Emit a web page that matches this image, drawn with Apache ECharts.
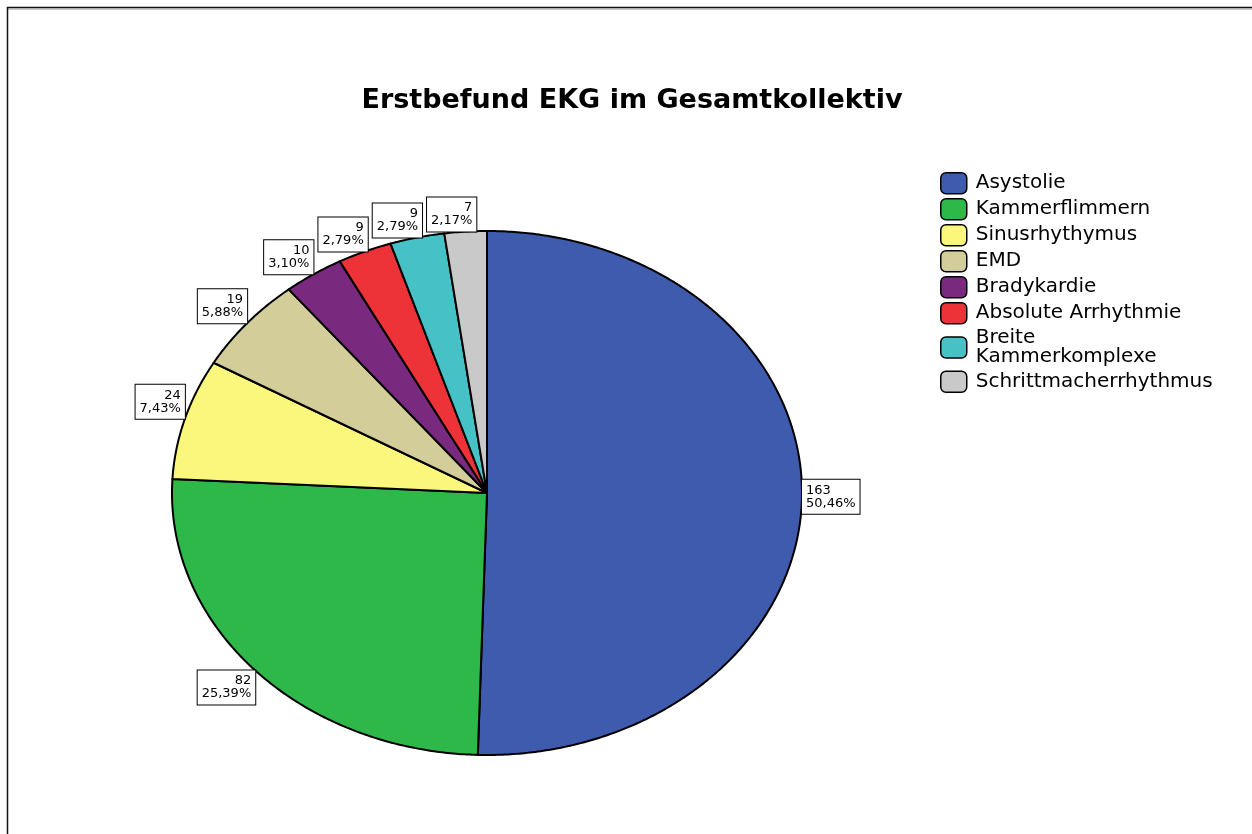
<!DOCTYPE html>
<html>
<head>
<meta charset="utf-8">
<script src="https://cdn.jsdelivr.net/npm/echarts@6/dist/echarts.min.js"></script>
<style>
  html, body { margin: 0; padding: 0; background: #fff; }
  #chart { width: 1252px; height: 834px; }
</style>
</head>
<body>
<div id="chart"></div>
<script>
// Initial ECG findings, whole cohort
const categories = ['Asystolie', 'Kammerflimmern', 'Sinusrhythymus', 'EMD', 'Bradykardie',
                    'Absolute Arrhythmie', 'Breite Kammerkomplexe', 'Schrittmacherrhythmus'];
const counts = [163, 82, 24, 19, 10, 9, 9, 7];
const colors = ['#3f5bad', '#2eb84a', '#fbf77c', '#d3cd9a', '#7a2a7e', '#ee3338', '#46c1c6', '#c9c9c9'];
const titleText = 'Erstbefund EKG im Gesamtkollektiv';

// Elliptical pie geometry
const CX = 487, CY = 493, RX = 315, RY = 262;
const LABEL_FONT = '13px "DejaVu Sans"';
const PAD = [4, 4, 4, 4];
const LINE_H = 13;

const total = counts.reduce((a, b) => a + b, 0);
const starts = [];
counts.reduce((acc, v, i) => { starts[i] = acc; return acc + v; }, 0);
const pctText = counts.map(v => (v / total * 100).toFixed(2).replace('.', ',') + '%');

function arcPoint(t) {
  const a = t * 2 * Math.PI;
  return [CX + RX * Math.sin(a), CY - RY * Math.cos(a)];
}

// Label boxes: a corner sits on the rim at the slice's mid angle; boxes that would collide get pushed along.
const measureCtx = document.createElement('canvas').getContext('2d');
measureCtx.font = LABEL_FONT;
const labelLayout = [];
const placed = [];
counts.forEach((v, i) => {
  const tm = (starts[i] + v / 2) / total;
  const a = tm * 2 * Math.PI;
  const [px, py] = arcPoint(tm);
  const text = v + '\n' + pctText[i];
  const w = Math.max(measureCtx.measureText(String(v)).width, measureCtx.measureText(pctText[i]).width) + PAD[1] + PAD[3];
  const h = 2 * LINE_H + PAD[0] + PAD[2];
  const right = Math.sin(a) > 0;
  const c = Math.cos(a);
  const va = Math.abs(c) < 0.2 ? 'middle' : (c > 0 ? 'bottom' : 'top');
  const baseY = va === 'middle' ? py - h / 2 : (va === 'bottom' ? py - h : py);
  let x0 = right ? px : px - w;
  const y0 = baseY;
  placed.forEach(b => {
    const vOver = y0 < b.y1 && y0 + h > b.y0;
    if (vOver && c > 0 && x0 < b.x1 + 5 && x0 + w > b.x0) x0 = b.x1 + 5;
  });
  placed.push({ x0: x0, x1: x0 + w, y0: y0, y1: y0 + h });
  labelLayout.push({
    text: text,
    align: right ? 'left' : 'right',
    va: va,
    x: right ? x0 : x0 + w,
    y: py
  });
});

function renderSlice(params, api) {
  const v = api.value(0), s = api.value(1);
  const t0 = s / total, t1 = (s + v) / total;
  const n = Math.max(2, Math.ceil((t1 - t0) * 720));
  const pts = [[CX, CY]];
  for (let k = 0; k <= n; k++) pts.push(arcPoint(t0 + (t1 - t0) * k / n));
  const lab = labelLayout[params.seriesIndex];
  return {
    type: 'group',
    children: [
      {
        type: 'polygon',
        shape: { points: pts },
        style: { fill: api.visual('color'), stroke: '#000', lineWidth: 2, lineJoin: 'round' }
      },
      {
        type: 'text',
        x: lab.x, y: lab.y, z2: 20,
        style: {
          text: lab.text, align: lab.align, verticalAlign: lab.va,
          font: LABEL_FONT, fill: '#000', lineHeight: LINE_H,
          backgroundColor: '#fff', borderColor: '#000', borderWidth: 1, padding: PAD
        }
      }
    ]
  };
}

const chart = echarts.init(document.getElementById('chart'), null, { renderer: 'canvas' });
chart.setOption({
  backgroundColor: '#fff',
  animation: false,
  title: {
    text: titleText,
    left: 632, top: 87, textAlign: 'center', padding: 0,
    textStyle: { fontFamily: 'DejaVu Sans', fontWeight: 'bold', fontSize: 27, color: '#000' }
  },
  legend: {
    orient: 'vertical', left: 940, top: 172, padding: 0,
    itemWidth: 26, itemHeight: 21, itemGap: 3.5, icon: 'roundRect',
    selectedMode: false,
    itemStyle: { borderColor: '#000', borderWidth: 1.5 },
    textStyle: { fontFamily: 'DejaVu Sans', fontSize: 20, color: '#000', lineHeight: 19, padding: [0, 0, 0, 4] },
    formatter: name => (name.length > 20 && name.indexOf(' ') > 0) ? name.replace(' ', '\n') : name,
    data: categories
  },
  graphic: [
    { type: 'line', shape: { x1: 7, y1: 7.5, x2: 1252, y2: 7.5 }, style: { stroke: '#111', lineWidth: 1.5 } },
    { type: 'line', shape: { x1: 8, y1: 9, x2: 1252, y2: 9 }, style: { stroke: '#999', lineWidth: 1 } },
    { type: 'line', shape: { x1: 7.5, y1: 7, x2: 7.5, y2: 834 }, style: { stroke: '#111', lineWidth: 1.5 } }
  ],
  series: categories.map((name, i) => ({
    type: 'custom',
    name: name,
    coordinateSystem: 'none',
    silent: true,
    renderItem: renderSlice,
    itemStyle: { color: colors[i] },
    data: [[counts[i], starts[i]]]
  }))
});
</script>
</body>
</html>
